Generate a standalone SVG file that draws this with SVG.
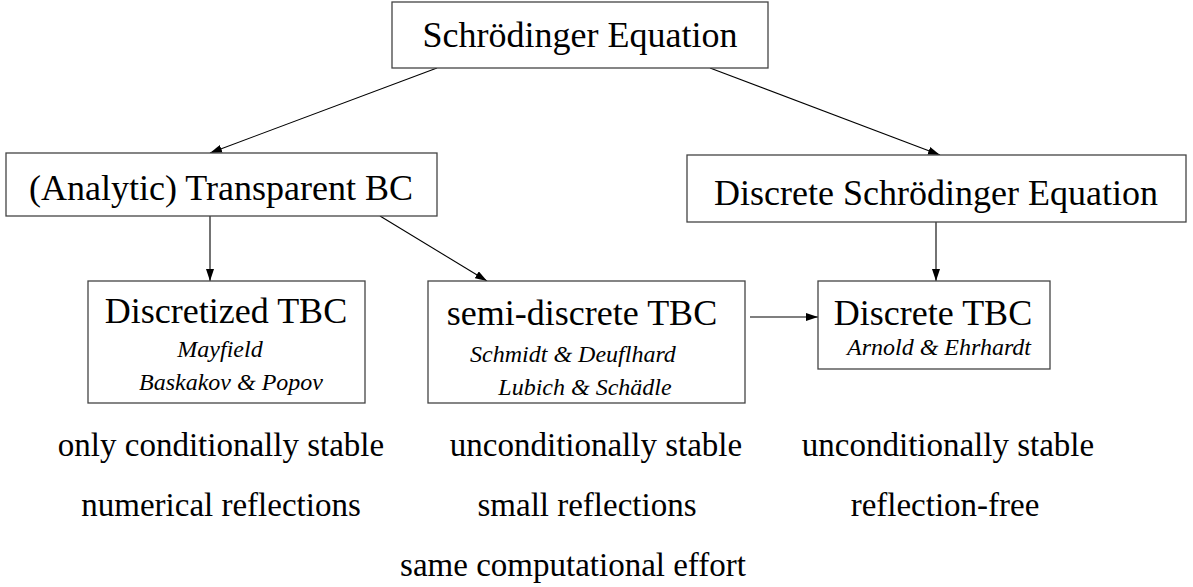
<svg xmlns="http://www.w3.org/2000/svg" width="1193" height="587" viewBox="0 0 1193 587">
  <style>
    .box { fill: #ffffff; stroke: #444444; stroke-width: 1.3; }
    .title { font-family: "Liberation Serif", "Times New Roman", serif; font-size: 36px; fill: #000; text-anchor: middle; }
    .name { font-family: "Liberation Serif", "Times New Roman", serif; font-size: 24px; font-style: italic; fill: #000; text-anchor: middle; }
    .note { font-family: "Liberation Serif", "Times New Roman", serif; font-size: 33px; fill: #000; text-anchor: middle; }
    .edge { stroke: #000; stroke-width: 1.1; fill: none; marker-end: url(#arrow); }
  </style>
  <defs>
    <marker id="arrow" viewBox="0 0 12 8" refX="12" refY="4" markerWidth="12" markerHeight="8" markerUnits="userSpaceOnUse" orient="auto">
      <path d="M0,0 L12,4 L0,8 Z" fill="#000"/>
    </marker>
  </defs>

  <g id="connectors">
    <line class="edge" x1="437" y1="68" x2="210" y2="153"/>
    <line class="edge" x1="710" y1="68" x2="940" y2="155"/>
    <line class="edge" x1="210" y1="216" x2="210" y2="281"/>
    <line class="edge" x1="380" y1="216" x2="487" y2="281"/>
    <line class="edge" x1="936" y1="222" x2="936" y2="281"/>
    <line class="edge" x1="750" y1="317" x2="818" y2="317"/>
  </g>

  <g id="schroedinger">
    <rect class="box" x="392" y="2" width="376" height="66"/>
    <text class="title" x="580" y="47">Schrödinger Equation</text>
  </g>

  <g id="transparent-bc">
    <rect class="box" x="6" y="153" width="431" height="63"/>
    <text class="title" x="221" y="200">(Analytic) Transparent BC</text>
  </g>

  <g id="discrete-schroedinger">
    <rect class="box" x="687" y="155" width="499" height="67"/>
    <text class="title" x="936" y="205">Discrete Schrödinger Equation</text>
  </g>

  <g id="discretized-tbc">
    <rect class="box" x="88" y="281" width="277" height="122"/>
    <text class="title" x="226" y="323">Discretized TBC</text>
    <text class="name" x="220" y="357">Mayfield</text>
    <text class="name" x="231" y="390">Baskakov &amp; Popov</text>
  </g>

  <g id="semi-discrete-tbc">
    <rect class="box" x="428" y="281" width="317" height="122"/>
    <text class="title" x="582" y="325">semi-discrete TBC</text>
    <text class="name" x="573" y="362">Schmidt &amp; Deuflhard</text>
    <text class="name" x="585" y="395">Lubich &amp; Schädle</text>
  </g>

  <g id="discrete-tbc">
    <rect class="box" x="818" y="281" width="232" height="88"/>
    <text class="title" x="933" y="325">Discrete TBC</text>
    <text class="name" x="939" y="355">Arnold &amp; Ehrhardt</text>
  </g>

  <g id="properties">
    <text class="note" x="221" y="456">only conditionally stable</text>
    <text class="note" x="221" y="516">numerical reflections</text>
    <text class="note" x="596" y="456">unconditionally stable</text>
    <text class="note" x="587" y="516">small reflections</text>
    <text class="note" x="948" y="456">unconditionally stable</text>
    <text class="note" x="945" y="516">reflection-free</text>
    <text class="note" x="573" y="576">same computational effort</text>
  </g>
</svg>
